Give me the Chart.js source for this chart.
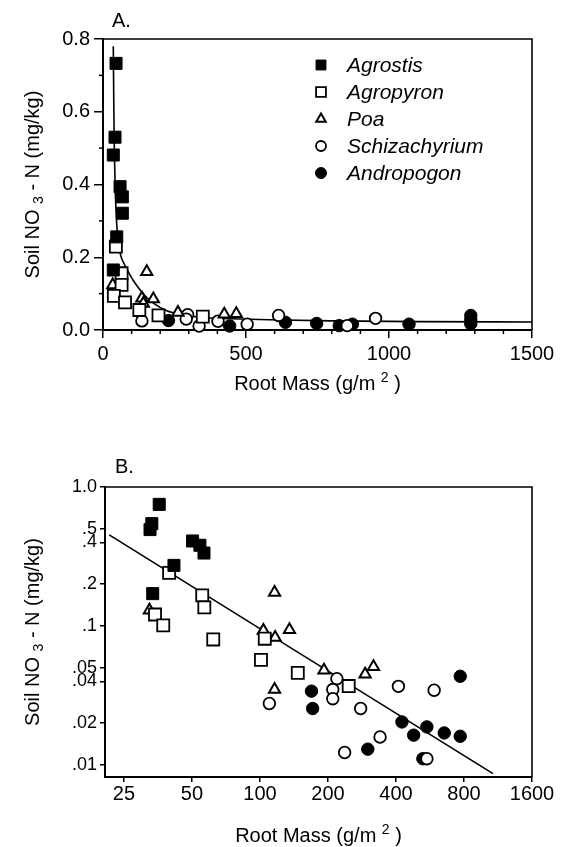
<!DOCTYPE html>
<html>
<head>
<meta charset="utf-8">
<script src="https://cdn.jsdelivr.net/npm/chart.js@4"></script>
<style>
  html, body { margin: 0; padding: 0; background: #fff; }
  #wrap  { position: relative; width: 568px; height: 847px; }
  canvas { position: absolute; left: 0; }
  #chart-a { top: 0; }
  #chart-b { top: 420px; }
</style>
</head>
<body>
<div id="wrap">
  <canvas id="chart-a" width="568" height="420"></canvas>
  <canvas id="chart-b" width="568" height="427"></canvas>
</div>
<script>
// ── Data: panel A (linear axes) ───────────────────────────
const speciesNames = ['Agrostis', 'Agropyron', 'Poa', 'Schizachyrium', 'Andropogon'];

const agrostisMassA = [45.6, 42, 36, 59.6, 67.7, 67.7, 48, 36];
const agrostisNO3A  = [0.733, 0.53, 0.481, 0.394, 0.366, 0.321, 0.256, 0.165];

const agropyronMassA = [45, 65, 65, 38, 77, 127, 194, 349];
const agropyronNO3A  = [0.229, 0.156, 0.124, 0.094, 0.076, 0.055, 0.040, 0.037];

const poaMassA = [34, 153, 136, 141, 176, 262, 424, 466];
const poaNO3A  = [0.124, 0.160, 0.087, 0.073, 0.085, 0.048, 0.043, 0.045];

const schizMassA = [136, 296, 291, 336, 402, 504, 614, 854, 953];
const schizNO3A  = [0.025, 0.042, 0.030, 0.011, 0.024, 0.016, 0.040, 0.012, 0.032];

const andropMassA = [229, 443, 638, 747, 826, 872, 1070, 1286, 1286, 1286];
const andropNO3A  = [0.026, 0.011, 0.021, 0.018, 0.012, 0.016, 0.016, 0.040, 0.028, 0.017];

// fitted curve
const curveMassA = [36, 38, 40, 43, 46, 50, 55, 62, 75, 90, 106, 130, 155, 180, 223, 280, 340, 450, 580, 800, 1100, 1500];
const curveNO3A  = [0.78, 0.60, 0.48, 0.38, 0.32, 0.27, 0.235, 0.205, 0.18, 0.158, 0.136, 0.11, 0.088, 0.072, 0.053, 0.042, 0.035, 0.031, 0.028, 0.025, 0.023, 0.022];

const xTicksA  = [0, 500, 1000, 1500];
const xMinorA  = [100, 200, 300, 400, 600, 700, 800, 900, 1100, 1200, 1300, 1400];
const yTicksA  = [0, 0.2, 0.4, 0.6, 0.8];
const yMinorA  = [0.1, 0.3, 0.5, 0.7];

// ── Data: panel B (log-log axes) ──────────────────────────
const agrostisMassB = [35.8, 33.2, 32.6, 41.6, 33.5, 50.3, 54.2, 56.5];
const agrostisNO3B  = [0.75, 0.545, 0.494, 0.273, 0.171, 0.409, 0.381, 0.335];

const agropyronMassB = [39.6, 55.5, 56.7, 34.3, 37.3, 62.1, 101, 105, 147, 247];
const agropyronNO3B  = [0.241, 0.166, 0.136, 0.121, 0.101, 0.080, 0.057, 0.081, 0.046, 0.037];

const poaMassB = [32.4, 103.5, 116.7, 116, 135, 116, 192, 292, 318];
const poaNO3B  = [0.130, 0.093, 0.0825, 0.174, 0.094, 0.035, 0.048, 0.045, 0.051];

const schizMassB = [110, 219, 210, 210, 279, 410, 590, 340, 237, 548];
const schizNO3B  = [0.0277, 0.0418, 0.0349, 0.030, 0.0255, 0.0368, 0.0345, 0.0159, 0.0123, 0.0111];

const andropMassB = [169, 171, 770, 425, 548, 479, 654, 770, 300, 526];
const andropNO3B  = [0.034, 0.0255, 0.0435, 0.0204, 0.0188, 0.0164, 0.0170, 0.0161, 0.0130, 0.0111];

// regression line endpoints
const fitMassB = [21.5, 1075];
const fitNO3B  = [0.452, 0.00867];

const xTicksB      = [25, 50, 100, 200, 400, 800, 1600];
const yTicksB      = [0.01, 0.02, 0.04, 0.05, 0.1, 0.2, 0.4, 0.5, 1.0];
const yTickLabelsB = ['.01', '.02', '.04', '.05', '.1', '.2', '.4', '.5', '1.0'];

// ── Styles ────────────────────────────────────────────────
const FONT = "'Liberation Sans', Arial, Helvetica, sans-serif";

const markerStyles = {
  Agrostis:      { pointStyle: 'rect',     radius: 8.5, fill: '#000', border: 1,   legendRadius: 7 },
  Agropyron:     { pointStyle: 'rect',     radius: 8.5, fill: '#fff', border: 1.8, legendRadius: 7 },
  Poa:           { pointStyle: 'triangle', radius: 6.5, fill: '#fff', border: 2,   legendRadius: 5.5 },
  Schizachyrium: { pointStyle: 'circle',   radius: 5.8, fill: '#fff', border: 1.8, legendRadius: 5 },
  Andropogon:    { pointStyle: 'circle',   radius: 6.2, fill: '#000', border: 1,   legendRadius: 5.5 }
};

function pts(xs, ys) { return xs.map((x, i) => ({ x, y: ys[i] })); }

function speciesSet(name, xs, ys) {
  const s = markerStyles[name];
  return {
    label: name,
    data: pts(xs, ys),
    pointStyle: s.pointStyle,
    pointRadius: s.radius,
    pointHoverRadius: s.radius,
    pointBackgroundColor: s.fill,
    pointBorderColor: '#000',
    pointBorderWidth: s.border,
    showLine: false,
    clip: false,
    order: 1
  };
}

function fitSet(xs, ys, smooth) {
  return {
    label: 'fit',
    data: pts(xs, ys),
    showLine: true,
    borderColor: '#000',
    borderWidth: 1.6,
    pointRadius: 0,
    cubicInterpolationMode: smooth ? 'monotone' : 'default',
    fill: false,
    clip: false,
    order: 5
  };
}

// ── Decorations: titles, minor ticks, frame, legend ───────
function drawRich(ctx, parts, cx, cy, rotate) {
  ctx.save();
  ctx.translate(cx, cy);
  if (rotate) ctx.rotate(-Math.PI / 2);
  ctx.fillStyle = '#000';
  ctx.textBaseline = 'alphabetic';
  ctx.textAlign = 'left';
  let total = 0;
  parts.forEach(p => {
    ctx.font = (p.sub || p.sup ? '14px ' : '20px ') + FONT;
    p.w = ctx.measureText(p.t).width;
    total += p.w;
  });
  let x = -total / 2;
  parts.forEach(p => {
    ctx.font = (p.sub || p.sup ? '14px ' : '20px ') + FONT;
    const dy = p.sub ? 4 : (p.sup ? -8 : 0);
    ctx.fillText(p.t, x, 7 + dy);
    x += p.w;
  });
  ctx.restore();
}

const yTitleParts = [{ t: 'Soil NO ' }, { t: '3', sub: true }, { t: ' - N (mg/kg)' }];
const xTitleParts = [{ t: 'Root Mass (g/m ' }, { t: '2', sup: true }, { t: ' )' }];

function makeDecor(cfg) {
  return {
    id: 'decor' + cfg.panel,
    afterDraw(chart) {
      const { ctx, chartArea: a } = chart;
      const xs = chart.scales.x, ys = chart.scales.y;
      ctx.save();
      ctx.strokeStyle = '#000';

      // frame top + right
      ctx.lineWidth = 1.6;
      ctx.beginPath();
      ctx.moveTo(a.left, a.top);
      ctx.lineTo(a.right, a.top);
      ctx.lineTo(a.right, a.bottom);
      ctx.stroke();

      // minor ticks
      ctx.lineWidth = 1.5;
      (cfg.xMinor || []).forEach(v => {
        const px = xs.getPixelForValue(v);
        ctx.beginPath(); ctx.moveTo(px, a.bottom); ctx.lineTo(px, a.bottom + 4); ctx.stroke();
      });
      (cfg.yMinor || []).forEach(v => {
        const py = ys.getPixelForValue(v);
        ctx.beginPath(); ctx.moveTo(a.left - 4, py); ctx.lineTo(a.left, py); ctx.stroke();
      });

      // panel letter
      ctx.fillStyle = '#000';
      ctx.font = '20px ' + FONT;
      ctx.textAlign = 'left';
      ctx.textBaseline = 'middle';
      ctx.fillText(cfg.panel + '.', cfg.letterX, cfg.letterY);

      // axis titles
      drawRich(ctx, yTitleParts, 32, (a.top + a.bottom) / 2, true);
      drawRich(ctx, xTitleParts, (a.left + a.right) / 2, cfg.xTitleY, false);

      // legend
      if (cfg.legend) {
        chart.data.datasets.filter(d => speciesNames.includes(d.label)).forEach((d, i) => {
          const s = markerStyles[d.label];
          const y = cfg.legend.y + i * cfg.legend.step;
          ctx.fillStyle = s.fill;
          ctx.strokeStyle = '#000';
          ctx.lineWidth = s.border;
          Chart.helpers.drawPoint(ctx, { pointStyle: s.pointStyle, radius: s.legendRadius, borderWidth: s.border, rotation: 0 }, cfg.legend.x, y);
          ctx.fillStyle = '#000';
          ctx.font = 'italic 21px ' + FONT;
          ctx.textBaseline = 'middle';
          ctx.fillText(d.label, cfg.legend.x + 26, y + 1);
        });
      }
      ctx.restore();
    }
  };
}

function axisFont(size) { return { family: FONT, size: size || 20 }; }

// ── Panel A ───────────────────────────────────────────────
new Chart(document.getElementById('chart-a'), {
  type: 'scatter',
  data: {
    datasets: [
      fitSet(curveMassA, curveNO3A, true),
      speciesSet('Agrostis', agrostisMassA, agrostisNO3A),
      speciesSet('Agropyron', agropyronMassA, agropyronNO3A),
      speciesSet('Poa', poaMassA, poaNO3A),
      speciesSet('Schizachyrium', schizMassA, schizNO3A),
      speciesSet('Andropogon', andropMassA, andropNO3A)
    ]
  },
  options: {
    responsive: false,
    animation: false,
    events: [],
    layout: { padding: { top: 39, right: 36, left: 0, bottom: 0 } },
    plugins: { legend: { display: false }, tooltip: { enabled: false } },
    scales: {
      x: {
        type: 'linear', min: 0, max: 1500,
        afterBuildTicks: s => { s.ticks = xTicksA.map(v => ({ value: v })); },
        afterFit: s => { s.height = 90; },
        border: { color: '#000', width: 2 },
        grid: { drawOnChartArea: false, color: '#000', lineWidth: 1.5, tickLength: 8 },
        ticks: { color: '#000', font: axisFont(), padding: 4, maxRotation: 0, autoSkip: false, callback: v => String(v) }
      },
      y: {
        type: 'linear', min: 0, max: 0.8,
        afterBuildTicks: s => { s.ticks = yTicksA.map(v => ({ value: v })); },
        afterFit: s => { s.width = 103; },
        border: { color: '#000', width: 2 },
        grid: { drawOnChartArea: false, color: '#000', lineWidth: 1.5, tickLength: 9 },
        ticks: { color: '#000', font: axisFont(), padding: 4, autoSkip: false, callback: v => v.toFixed(1) }
      }
    }
  },
  plugins: [makeDecor({
    panel: 'A', letterX: 112, letterY: 21, xTitleY: 383,
    xMinor: xMinorA, yMinor: yMinorA,
    legend: { x: 321, y: 65, step: 27 }
  })]
});

// ── Panel B ───────────────────────────────────────────────
new Chart(document.getElementById('chart-b'), {
  type: 'scatter',
  data: {
    datasets: [
      fitSet(fitMassB, fitNO3B, false),
      speciesSet('Agrostis', agrostisMassB, agrostisNO3B),
      speciesSet('Agropyron', agropyronMassB, agropyronNO3B),
      speciesSet('Poa', poaMassB, poaNO3B),
      speciesSet('Schizachyrium', schizMassB, schizNO3B),
      speciesSet('Andropogon', andropMassB, andropNO3B)
    ]
  },
  options: {
    responsive: false,
    animation: false,
    events: [],
    layout: { padding: { top: 67, right: 36, left: 0, bottom: 0 } },
    plugins: { legend: { display: false }, tooltip: { enabled: false } },
    scales: {
      x: {
        type: 'logarithmic', min: 20.6, max: 1600,
        afterBuildTicks: s => { s.ticks = xTicksB.map(v => ({ value: v })); },
        afterFit: s => { s.height = 70; },
        border: { color: '#000', width: 2 },
        grid: { drawOnChartArea: false, color: '#000', lineWidth: 1.5, tickLength: 5 },
        ticks: { color: '#000', font: axisFont(), padding: 0, maxRotation: 0, autoSkip: false, callback: v => String(v) }
      },
      y: {
        type: 'logarithmic', min: 0.0082, max: 1.0,
        afterBuildTicks: s => { s.ticks = yTicksB.map(v => ({ value: v })); },
        afterFit: s => { s.width = 105; },
        border: { color: '#000', width: 2 },
        grid: { drawOnChartArea: false, color: '#000', lineWidth: 1.5, tickLength: 5 },
        ticks: { color: '#000', font: axisFont(18), padding: 3, autoSkip: false, callback: (v, i) => yTickLabelsB[i] }
      }
    }
  },
  plugins: [makeDecor({
    panel: 'B', letterX: 115, letterY: 47, xTitleY: 415
  })]
});
</script>
</body>
</html>
